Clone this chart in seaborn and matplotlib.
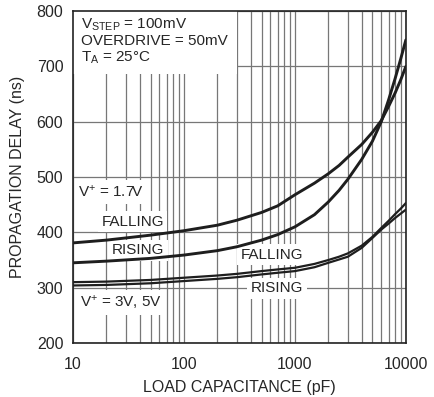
import numpy as np
import pandas as pd
import matplotlib
matplotlib.use('Agg')
import matplotlib.pyplot as plt
import seaborn as sns

# load capacitance (pF) sample points
cap_pf = [10, 20, 50, 100, 200, 300, 500, 700, 1000, 1500, 2000, 2500, 3000,
          4000, 5000, 6000, 7000, 8000, 9000, 10000]

# propagation delay (ns)
v17_falling = [381, 386, 395, 403, 413, 422, 436, 448, 468, 489, 506, 521, 536,
               559, 581, 602, 628, 652, 676, 700]
v17_rising = [345, 348, 353, 359, 367, 374, 386, 396, 410, 432, 455, 476, 496,
              532, 565, 600, 640, 678, 714, 748]
v35_falling = [310, 311, 314, 318, 322, 325, 330, 333, 336, 343, 350, 356, 362,
               376, 392, 408, 421, 433, 443, 453]
v35_rising = [304, 305, 308, 312, 316, 319, 324, 327, 330, 337, 345, 351, 356,
              372, 390, 405, 416, 426, 434, 441]

y_ticks = [200, 300, 400, 500, 600, 700, 800]
x_ticks = [10, 100, 1000, 10000]
x_ticklabels = ['10', '100', '1000', '10000']

series = {
    '1.7V falling': v17_falling,
    '1.7V rising': v17_rising,
    '3V/5V falling': v35_falling,
    '3V/5V rising': v35_rising,
}
frames = []
for name, vals in series.items():
    frames.append(pd.DataFrame({'cap': cap_pf, 'delay': vals, 'curve': name}))
df = pd.concat(frames, ignore_index=True)

sns.set_style('white')
plt.rcParams['font.family'] = ['Liberation Sans', 'DejaVu Sans']
plt.rcParams['mathtext.fontset'] = 'custom'
plt.rcParams['mathtext.rm'] = 'Liberation Sans'
plt.rcParams['mathtext.default'] = 'rm'

fig = plt.figure(figsize=(4.35, 3.97), dpi=100)
ax = fig.add_axes([0.168, 0.136, 0.765, 0.836])

widths = {'1.7V falling': 2.1, '1.7V rising': 2.1,
          '3V/5V falling': 1.6, '3V/5V rising': 1.6}
palette = {k: '#1e1e1e' for k in series}
sns.lineplot(data=df, x='cap', y='delay', hue='curve', palette=palette,
             size='curve', sizes=widths, legend=False, ax=ax, zorder=4)

ax.set_xscale('log')
ax.set_xlim(10, 10000)
ax.set_ylim(200, 800)
ax.set_yticks(y_ticks)
ax.set_xticks(x_ticks)
ax.set_xticklabels(x_ticklabels)
ax.xaxis.set_minor_locator(matplotlib.ticker.LogLocator(base=10, subs=np.arange(2, 10)))
ax.xaxis.set_minor_formatter(matplotlib.ticker.NullFormatter())

ax.set_axisbelow(True)
ax.grid(which='both', axis='x', color='#777777', lw=0.9)
ax.grid(which='major', axis='y', color='#777777', lw=0.9)
for s in ax.spines.values():
    s.set_color('#222222')
    s.set_linewidth(1.2)
    s.set_zorder(5)

ax.tick_params(axis='y', which='major', length=3, width=0.9, color='#333333',
               labelsize=11.5, pad=4)
ax.tick_params(axis='x', which='both', length=0, labelsize=11.5, pad=10)
ax.set_xlabel('LOAD CAPACITANCE (pF)', fontsize=11.5, labelpad=6)
ax.set_ylabel('PROPAGATION DELAY (ns)', fontsize=11.5, labelpad=8)

box = dict(facecolor='white', edgecolor='none', pad=2.5)
ax.text(11.9, 790, 'V$_{STEP}$ = 100mV\nOVERDRIVE = 50mV\nT$_{A}$ = 25°C',
        fontsize=11, va='top', ha='left', linespacing=1.1,
        bbox=dict(facecolor='white', edgecolor='none', pad=6), zorder=3)
ax.text(11.1, 473, 'V$^{+}$ = 1.7V', fontsize=11, va='center', ha='left',
        bbox=box, zorder=3)
ax.text(34.4, 419, 'FALLING', fontsize=11, va='center', ha='center',
        bbox=box, zorder=3)
ax.text(38.5, 368, 'RISING', fontsize=11, va='center', ha='center',
        bbox=box, zorder=3)
ax.text(11.6, 274, 'V$^{+}$ = 3V, 5V', fontsize=11, va='center', ha='left',
        bbox=box, zorder=3)
ax.text(621, 360, 'FALLING', fontsize=11, va='center', ha='center',
        bbox=box, zorder=3)
ax.text(689, 299, 'RISING', fontsize=11, va='center', ha='center',
        bbox=box, zorder=3)

fig.savefig('out.png', dpi=100)
